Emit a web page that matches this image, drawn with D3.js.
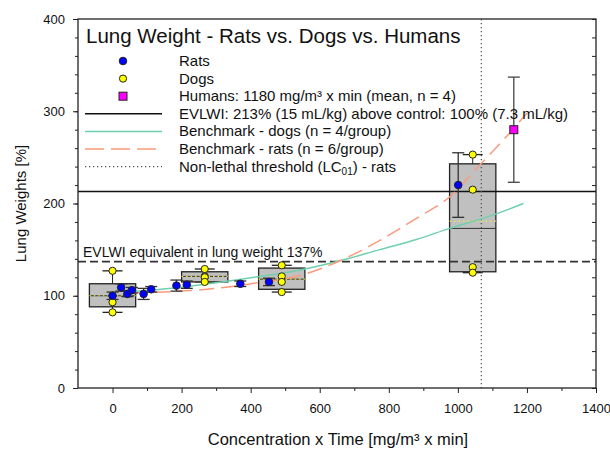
<!DOCTYPE html>
<html>
<head>
<meta charset="utf-8">
<script src="https://cdn.jsdelivr.net/npm/d3@7"></script>
<style>
  body { margin: 0; background: #fff; }
  svg { font-family: "Liberation Sans", Arial, sans-serif; }
</style>
</head>
<body>
<div id="vis"></div>
<script>
// Rats: mean lung weight with error bars
var ratX = [0, 25, 43, 56, 90, 112, 185, 215, 370, 453, 1001];
var ratY = [100, 109, 102, 106, 102, 107, 111, 112, 113, 115, 220];
var ratErr = [4, 4, 3, 3, 6, 3, 6, 4, 3, 4, 35];

// Dogs: individual values per group, shown as box plots
var dogX = [0, 267, 490, 1043];
var dogValues = [
  [127, 100, 93, 82],
  [129, 121, 120, 115],
  [133, 121, 115, 104],
  [253, 215, 131, 125]
];
var boxQ1 = [88, 115, 107, 126];
var boxMedian = [100, 121, 118, 173];
var boxQ3 = [113, 126, 130, 243];
var boxMean = [100, 121, 118, 181];

// Humans
var humanX = [1162];
var humanY = [280];
var humanErr = [57];

// Benchmark curves
var dogCurveX = [50, 170, 300, 420, 543, 659, 774, 880, 976, 1090, 1190];
var dogCurveY = [104, 108, 114, 120.5, 128, 138, 150, 161, 173, 186, 200];
var ratCurveX = [60, 170, 300, 420, 543, 659, 774, 889, 976, 1067, 1149, 1200];
var ratCurveY = [103, 104.5, 108, 114, 122, 138, 160, 186, 207, 243, 276, 298];

// Reference lines
var evlwiLevel = 213;
var equivLevel = 137;
var lc01 = 1068;

var xTicks = [0, 200, 400, 600, 800, 1000, 1200, 1400];
var yTicks = [0, 100, 200, 300, 400];

var legendLabels = [
  'Rats',
  'Dogs',
  'Humans: 1180 mg/m\u00b3 x min (mean, n = 4)',
  'EVLWI: 213% (15 mL/kg) above control: 100% (7.3 mL/kg)',
  'Benchmark - dogs (n = 4/group)',
  'Benchmark - rats (n = 6/group)',
  'Non-lethal threshold (LC'
];

var width = 610;
var height = 451;
var plot = { left: 78, right: 596, top: 19, bottom: 388 };

var teal = '#6fd0ad';
var salmon = '#fb9a7c';

var svg = d3.select('#vis').append('svg')
  .attr('width', width)
  .attr('height', height);

var x = d3.scaleLinear().domain([-100, 1400]).range([plot.left, plot.right]);
var y = d3.scaleLinear().domain([0, 400]).range([plot.bottom, plot.top]);

// Axes
var minorY = d3.range(0, 401, 20);
var minorX = d3.range(100, 1400, 200);

svg.append('g')
  .attr('transform', 'translate(' + plot.left + ',0)')
  .call(d3.axisLeft(y).tickValues(minorY).tickSize(3).tickFormat(''))
  .call(function (g) { g.select('.domain').remove(); });

svg.append('g')
  .attr('class', 'y axis')
  .attr('transform', 'translate(' + plot.left + ',0)')
  .call(d3.axisLeft(y).tickValues(yTicks).tickSize(5).tickPadding(8).tickFormat(d3.format('d')))
  .call(function (g) { g.select('.domain').remove(); });

svg.append('g')
  .attr('transform', 'translate(' + plot.right + ',0)')
  .call(d3.axisRight(y).tickValues(minorY).tickSize(-4).tickFormat(''))
  .call(function (g) { g.select('.domain').remove(); });

svg.append('g')
  .attr('transform', 'translate(0,' + plot.bottom + ')')
  .call(d3.axisBottom(x).tickValues(minorX).tickSize(3).tickFormat(''))
  .call(function (g) { g.select('.domain').remove(); });

svg.append('g')
  .attr('class', 'x axis')
  .attr('transform', 'translate(0,' + plot.bottom + ')')
  .call(d3.axisBottom(x).tickValues(xTicks).tickSize(5).tickPadding(11).tickFormat(d3.format('d')))
  .call(function (g) { g.select('.domain').remove(); });

svg.selectAll('.tick line').attr('stroke', '#222');
svg.selectAll('.tick text')
  .attr('font-size', 13)
  .attr('font-family', '"Liberation Sans", Arial, sans-serif')
  .attr('fill', '#111');

// Box plots for dogs
var boxHalf = 67;
var capHalf = 10;
var boxes = svg.append('g');
dogX.forEach(function (cx, i) {
  var lo = d3.min(dogValues[i]);
  var hi = d3.max(dogValues[i]);
  var b = boxes.append('g');
  b.append('line')
    .attr('x1', x(cx)).attr('x2', x(cx))
    .attr('y1', y(hi)).attr('y2', y(lo))
    .attr('stroke', '#222').attr('stroke-width', 1);
  [lo, hi].forEach(function (v) {
    b.append('line')
      .attr('x1', x(cx) - capHalf).attr('x2', x(cx) + capHalf)
      .attr('y1', y(v)).attr('y2', y(v))
      .attr('stroke', '#222').attr('stroke-width', 1.3);
  });
  b.append('rect')
    .attr('x', x(cx - boxHalf))
    .attr('y', y(boxQ3[i]))
    .attr('width', x(cx + boxHalf) - x(cx - boxHalf))
    .attr('height', y(boxQ1[i]) - y(boxQ3[i]))
    .attr('fill', '#c0c0c0')
    .attr('stroke', '#222')
    .attr('stroke-width', 1.3);
  b.append('line')
    .attr('x1', x(cx - boxHalf)).attr('x2', x(cx + boxHalf))
    .attr('y1', y(boxMedian[i])).attr('y2', y(boxMedian[i]))
    .attr('stroke', '#333').attr('stroke-width', 1);
  b.append('line')
    .attr('x1', x(cx - boxHalf)).attr('x2', x(cx + boxHalf))
    .attr('y1', y(boxMean[i])).attr('y2', y(boxMean[i]))
    .attr('stroke', '#ecec3a').attr('stroke-width', 1.2)
    .attr('stroke-dasharray', '1.5,3');
});

// Reference lines
svg.append('line')
  .attr('x1', plot.left).attr('x2', plot.right)
  .attr('y1', y(evlwiLevel)).attr('y2', y(evlwiLevel))
  .attr('stroke', '#111').attr('stroke-width', 1.3);

svg.append('line')
  .attr('x1', plot.left).attr('x2', plot.right)
  .attr('y1', y(equivLevel)).attr('y2', y(equivLevel))
  .attr('stroke', '#333').attr('stroke-width', 1.6)
  .attr('stroke-dasharray', '8,4');

svg.append('text')
  .attr('x', 83)
  .attr('y', y(equivLevel) - 5)
  .attr('font-size', 14)
  .attr('fill', '#111')
  .text('EVLWI equivalent in lung weight 137%');

svg.append('line')
  .attr('x1', x(lc01)).attr('x2', x(lc01))
  .attr('y1', plot.top).attr('y2', plot.bottom)
  .attr('stroke', '#555').attr('stroke-width', 1.3)
  .attr('stroke-dasharray', '1.3,2.7');

// Benchmark curves
var line = d3.line()
  .x(function (d) { return x(d[0]); })
  .y(function (d) { return y(d[1]); })
  .curve(d3.curveMonotoneX);

svg.append('path')
  .datum(d3.zip(dogCurveX, dogCurveY))
  .attr('d', line)
  .attr('fill', 'none')
  .attr('stroke', teal)
  .attr('stroke-width', 1.5);

svg.append('path')
  .datum(d3.zip(ratCurveX, ratCurveY))
  .attr('d', line)
  .attr('fill', 'none')
  .attr('stroke', salmon)
  .attr('stroke-width', 1.5)
  .attr('stroke-dasharray', '15,7');

// Error bars for rats and humans
function errorBar(g, cx, cy, e, half, color) {
  g.append('line')
    .attr('x1', x(cx)).attr('x2', x(cx))
    .attr('y1', y(cy - e)).attr('y2', y(cy + e))
    .attr('stroke', color).attr('stroke-width', 1.3);
  [cy - e, cy + e].forEach(function (v) {
    g.append('line')
      .attr('x1', x(cx) - half).attr('x2', x(cx) + half)
      .attr('y1', y(v)).attr('y2', y(v))
      .attr('stroke', color).attr('stroke-width', 1.3);
  });
}

var marks = svg.append('g');
ratX.forEach(function (cx, i) {
  errorBar(marks, cx, ratY[i], ratErr[i], 6, '#333');
});
humanX.forEach(function (cx, i) {
  errorBar(marks, cx, humanY[i], humanErr[i], 6, '#444');
});

// Dog points
dogX.forEach(function (cx, i) {
  marks.selectAll(null)
    .data(dogValues[i])
    .enter()
    .append('circle')
    .attr('cx', x(cx))
    .attr('cy', function (d) { return y(d); })
    .attr('r', 3.6)
    .attr('fill', '#ffff00')
    .attr('stroke', '#222')
    .attr('stroke-width', 1);
});

// Rat points
marks.selectAll('.rat')
  .data(d3.zip(ratX, ratY))
  .enter()
  .append('circle')
  .attr('class', 'rat')
  .attr('cx', function (d) { return x(d[0]); })
  .attr('cy', function (d) { return y(d[1]); })
  .attr('r', 3.8)
  .attr('fill', '#0000ff')
  .attr('stroke', '#222')
  .attr('stroke-width', 1);

// Human point
marks.selectAll('.human')
  .data(d3.zip(humanX, humanY))
  .enter()
  .append('rect')
  .attr('class', 'human')
  .attr('x', function (d) { return x(d[0]) - 4; })
  .attr('y', function (d) { return y(d[1]) - 4; })
  .attr('width', 8)
  .attr('height', 8)
  .attr('fill', '#ff00ff')
  .attr('stroke', '#222')
  .attr('stroke-width', 1);

// Frame
svg.append('rect')
  .attr('x', plot.left).attr('y', plot.top)
  .attr('width', plot.right - plot.left)
  .attr('height', plot.bottom - plot.top)
  .attr('fill', 'none')
  .attr('stroke', '#222')
  .attr('stroke-width', 1.3);

// Title and legend
svg.append('text')
  .attr('x', 86)
  .attr('y', 43)
  .attr('font-size', 20.5)
  .attr('fill', '#111')
  .text('Lung Weight - Rats vs. Dogs vs. Humans');

var legend = svg.append('g');
var rowY = function (i) { return 61 + i * 17.6; };
var symX = 123;
var lineX1 = 85, lineX2 = 162;

legend.append('circle').attr('cx', symX).attr('cy', rowY(0)).attr('r', 3.8)
  .attr('fill', '#0000ff').attr('stroke', '#222');
legend.append('circle').attr('cx', symX).attr('cy', rowY(1)).attr('r', 3.6)
  .attr('fill', '#ffff00').attr('stroke', '#222');
legend.append('rect').attr('x', symX - 4).attr('y', rowY(2) - 4).attr('width', 8).attr('height', 8)
  .attr('fill', '#ff00ff').attr('stroke', '#222');
legend.append('line').attr('x1', lineX1).attr('x2', lineX2).attr('y1', rowY(3)).attr('y2', rowY(3))
  .attr('stroke', '#111').attr('stroke-width', 1.5);
legend.append('line').attr('x1', lineX1).attr('x2', lineX2).attr('y1', rowY(4)).attr('y2', rowY(4))
  .attr('stroke', teal).attr('stroke-width', 1.5);
legend.append('line').attr('x1', lineX1).attr('x2', lineX2).attr('y1', rowY(5)).attr('y2', rowY(5))
  .attr('stroke', salmon).attr('stroke-width', 1.5).attr('stroke-dasharray', '19,7');
legend.append('line').attr('x1', lineX1).attr('x2', lineX2).attr('y1', rowY(6)).attr('y2', rowY(6))
  .attr('stroke', '#555').attr('stroke-width', 1.3).attr('stroke-dasharray', '1.3,2.7');

legendLabels.forEach(function (t, i) {
  var txt = legend.append('text')
    .attr('x', 179)
    .attr('y', rowY(i) + 5)
    .attr('font-size', 15)
    .attr('fill', '#111')
    .text(t);
  if (i === 6) {
    txt.append('tspan').attr('font-size', 10).attr('dy', 3).text('01');
    txt.append('tspan').attr('dy', -3).text(') - rats');
  }
});

// Axis titles
svg.append('text')
  .attr('x', (plot.left + plot.right) / 2 + 1)
  .attr('y', 445)
  .attr('text-anchor', 'middle')
  .attr('font-size', 16.5)
  .attr('fill', '#111')
  .text('Concentration x Time [mg/m\u00b3 x min]');

svg.append('text')
  .attr('transform', 'translate(26,' + ((plot.top + plot.bottom) / 2) + ') rotate(-90)')
  .attr('text-anchor', 'middle')
  .attr('font-size', 15)
  .attr('fill', '#111')
  .text('Lung Weights [%]');
</script>
</body>
</html>
